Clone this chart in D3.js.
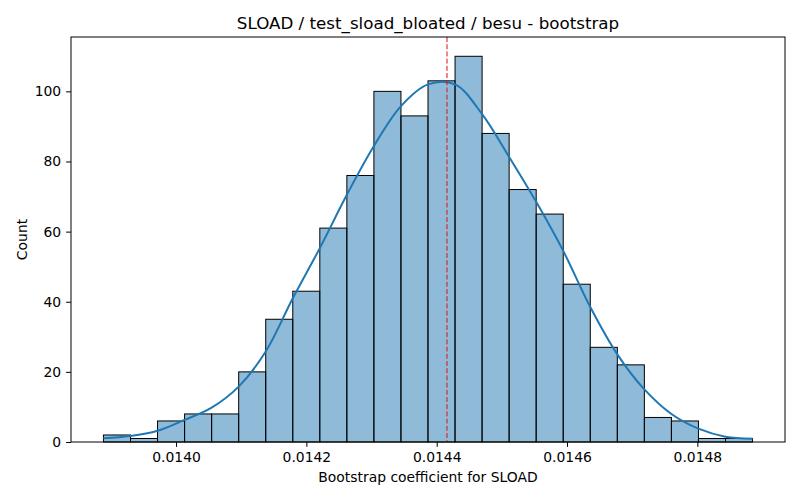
<!DOCTYPE html>
<html>
<head>
<meta charset="utf-8">
<script src="https://cdn.jsdelivr.net/npm/d3@7"></script>
<style>
  body { margin: 0; background: #fff; }
  svg { font-family: "DejaVu Sans", sans-serif; }
</style>
</head>
<body>
<svg width="800" height="500"></svg>
<script>
// histogram bins (bootstrap coefficient for SLOAD)
const binLo = 0.0138886
const binHi = 0.0148847
const counts = [2, 1, 6, 8, 8, 20, 35, 43, 61, 76, 100, 93, 103, 110, 88, 72, 65, 45, 27, 22, 7, 6, 1, 1]
// kde curve read at each bin edge (in count units)
const kdeCounts = [1.05, 1.7, 3.2, 6.3, 9.8, 15.8, 25.8, 41, 55.3, 70.5, 84.4, 95.8, 102, 102, 93.5, 81.3, 68.5, 54.5, 38.5, 25, 15, 8, 3.8, 1.5, 0.95]
const meanValue = 0.0144158
const xTicks = [0.0140, 0.0142, 0.0144, 0.0146, 0.0148]
const yTicks = [0, 20, 40, 60, 80, 100]

const margin = { left: 71, right: 15, top: 37, bottom: 58 }
const width = 800, height = 500

const svg = d3.select("svg")

const step = (binHi - binLo) / counts.length
const edges = d3.range(counts.length + 1).map(i => binLo + i * step)
const pad = (binHi - binLo) * 0.05

const x = d3.scaleLinear()
    .domain([binLo - pad, binHi + pad])
    .range([margin.left, width - margin.right])
const y = d3.scaleLinear()
    .domain([0, d3.max(counts) * 1.05])
    .range([height - margin.bottom, margin.top])

// bars
svg.append("g").selectAll("rect")
    .data(counts)
    .enter().append("rect")
    .attr("x", (d, i) => x(edges[i]))
    .attr("y", d => y(d))
    .attr("width", (d, i) => x(edges[i + 1]) - x(edges[i]))
    .attr("height", d => y(0) - y(d))
    .attr("fill", "#1f77b4")
    .attr("fill-opacity", 0.5)
    .attr("stroke", "#000")
    .attr("stroke-width", 1)

// kde line
const line = d3.line()
    .x((d, i) => x(edges[i]))
    .y(d => y(d))
    .curve(d3.curveCatmullRom)
svg.append("path")
    .datum(kdeCounts)
    .attr("d", line)
    .attr("fill", "none")
    .attr("stroke", "#1f77b4")
    .attr("stroke-width", 2)

// mean line
svg.append("line")
    .attr("x1", x(meanValue)).attr("x2", x(meanValue))
    .attr("y1", margin.top).attr("y2", height - margin.bottom)
    .attr("stroke", "#e01010")
    .attr("stroke-width", 1)
    .attr("stroke-dasharray", "5,2.2")

// axes
const xAxis = svg.append("g")
    .attr("transform", `translate(0,${height - margin.bottom})`)
    .call(d3.axisBottom(x).tickValues(xTicks).tickFormat(d3.format(".4f")).tickSize(4.9).tickPadding(4.9))
const yAxis = svg.append("g")
    .attr("transform", `translate(${margin.left},0)`)
    .call(d3.axisLeft(y).tickValues(yTicks).tickSize(4.9).tickPadding(4.9))

for (const g of [xAxis, yAxis]) {
  g.select(".domain").remove()
  g.selectAll("text").attr("font-size", 13.9).attr("fill", "#000").attr("font-family", "DejaVu Sans")
  g.selectAll("line").attr("stroke", "#000")
}

// frame
svg.append("rect")
    .attr("x", margin.left).attr("y", margin.top)
    .attr("width", width - margin.left - margin.right)
    .attr("height", height - margin.top - margin.bottom)
    .attr("fill", "none")
    .attr("stroke", "#000")
    .attr("stroke-width", 1)

svg.append("text")
    .attr("x", (margin.left + width - margin.right) / 2)
    .attr("y", 29)
    .attr("text-anchor", "middle")
    .attr("font-size", 16.7)
    .text("SLOAD / test_sload_bloated / besu - bootstrap")

svg.append("text")
    .attr("x", (margin.left + width - margin.right) / 2)
    .attr("y", 482)
    .attr("text-anchor", "middle")
    .attr("font-size", 13.9)
    .text("Bootstrap coefficient for SLOAD")

svg.append("text")
    .attr("transform", `translate(27,${(margin.top + height - margin.bottom) / 2}) rotate(-90)`)
    .attr("text-anchor", "middle")
    .attr("font-size", 13.9)
    .text("Count")
</script>
</body>
</html>
